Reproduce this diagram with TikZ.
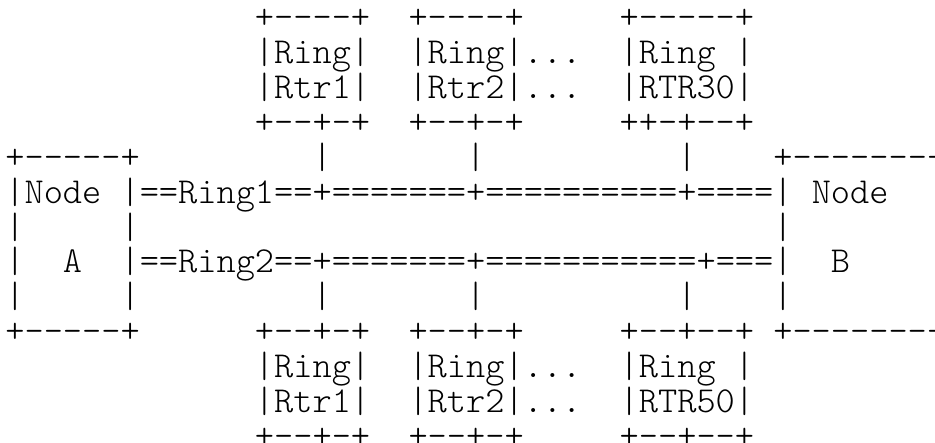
\documentclass[tikz,border=0pt]{standalone}
\usepackage{fontspec}
\setmonofont{Latin Modern Mono Light}
\begin{document}
\begin{tikzpicture}[x=1pt,y=1pt,
  asciirow/.style={anchor=base west, inner sep=0pt, outer sep=0pt,
    font=\ttfamily\fontsize{36.57}{40}\selectfont, text=black}]
\useasboundingbox[fill=white] (0,0) rectangle (935,-443);
\def\rx{5.4}
\def\ry#1{-(19+(#1-1)*34.85+10)}
\node[asciirow] (r1)  at (\rx,{\ry{1}})  {~~~~~~~~~~~~~+----+~~+----+~~~~~+-----+};
\node[asciirow] (r2)  at (\rx,{\ry{2}})  {~~~~~~~~~~~~~|Ring|~~|Ring|...~~|Ring~|};
\node[asciirow] (r3)  at (\rx,{\ry{3}})  {~~~~~~~~~~~~~|Rtr1|~~|Rtr2|...~~|RTR30|};
\node[asciirow] (r4)  at (\rx,{\ry{4}})  {~~~~~~~~~~~~~+--+-+~~+--+-+~~~~~++-+--+};
\node[asciirow] (r5)  at (\rx,{\ry{5}})  {+-----+~~~~~~~~~|~~~~~~~|~~~~~~~~~~|~~~~+---------};
\node[asciirow] (r6)  at (\rx,{\ry{6}})  {|Node~|==Ring1==+=======+==========+====|~Node};
\node[asciirow] (r7)  at (\rx,{\ry{7}})  {|~~~~~|~~~~~~~~~~~~~~~~~~~~~~~~~~~~~~~~~|};
\node[asciirow] (r8)  at (\rx,{\ry{8}})  {|~~A~~|==Ring2==+=======+===========+===|~~B};
\node[asciirow] (r9)  at (\rx,{\ry{9}})  {|~~~~~|~~~~~~~~~|~~~~~~~|~~~~~~~~~~|~~~~|};
\node[asciirow] (r10) at (\rx,{\ry{10}}) {+-----+~~~~~~+--+-+~~+--+-+~~~~~+--+--+~+---------};
\node[asciirow] (r11) at (\rx,{\ry{11}}) {~~~~~~~~~~~~~|Ring|~~|Ring|...~~|Ring~|};
\node[asciirow] (r12) at (\rx,{\ry{12}}) {~~~~~~~~~~~~~|Rtr1|~~|Rtr2|...~~|RTR50|};
\node[asciirow] (r13) at (\rx,{\ry{13}}) {~~~~~~~~~~~~~+--+-+~~+--+-+~~~~~+--+--+};
\end{tikzpicture}
\end{document}
